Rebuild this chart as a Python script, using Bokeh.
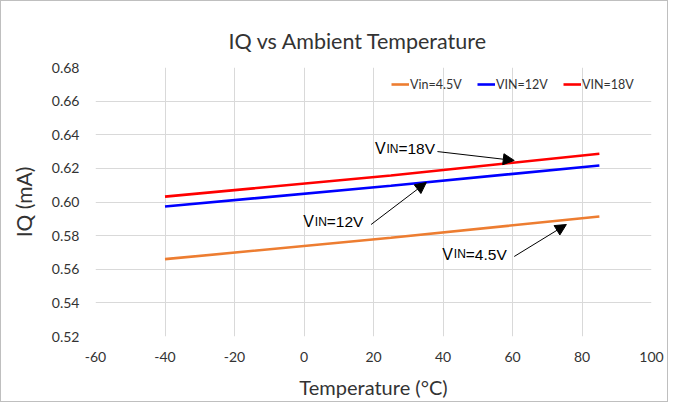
from bokeh.plotting import figure
from bokeh.models import Legend, LegendItem, Arrow, NormalHead, Label, SingleIntervalTicker, NumeralTickFormatter, Range1d
from bokeh.embed import file_html
from bokeh.resources import INLINE

temps = [-40, 25, 85]
iq_45 = [0.566, 0.5787, 0.5914]
iq_12 = [0.5973, 0.6097, 0.6217]
iq_18 = [0.6032, 0.6158, 0.6287]
series_names = ["Vin=4.5V", "VIN=12V", "VIN=18V"]
colors = ["#ED7D31", "#0000FF", "#FF0000"]
title_text = "IQ vs Ambient Temperature"

FONT = "Lato"
TXT = "#333333"
p = figure(width=668, height=402, output_backend="svg", toolbar_location=None,
           x_range=Range1d(-60, 100), y_range=Range1d(0.52, 0.68),
           min_border_left=94, min_border_right=18, min_border_top=66, min_border_bottom=67)
p.styles = {"border": "1px solid #bfbfbf"}
p.outline_line_color = None
p.title.text = title_text
p.title.align = "left"
p.title.offset = 133
p.title.standoff = 28
p.title.text_font = FONT
p.title.text_font_size = "21.5px"
p.title.text_font_style = "normal"
p.title.text_color = TXT

for ax in (p.xaxis, p.yaxis):
    ax.axis_line_color = None
    ax.major_tick_line_color = None
    ax.minor_tick_line_color = None
    ax.major_label_text_font = FONT
    ax.major_label_text_font_size = "14px"
    ax.major_label_text_color = TXT
    ax.axis_label_text_font = FONT
    ax.axis_label_text_font_style = "normal"
    ax.axis_label_text_color = TXT

p.xaxis.ticker = SingleIntervalTicker(interval=20)
p.yaxis.ticker = SingleIntervalTicker(interval=0.02)
p.xaxis.formatter = NumeralTickFormatter(format="0")
p.yaxis.formatter = NumeralTickFormatter(format="0.00")
p.xaxis.axis_label = "Temperature (°C)"
p.yaxis.axis_label = "IQ (mA)"
p.xaxis.axis_label_text_font_size = "20px"
p.yaxis.axis_label_text_font_size = "21px"
p.xaxis.major_label_standoff = 9
p.yaxis.major_label_standoff = 10
p.xaxis.axis_label_standoff = 10
p.yaxis.axis_label_standoff = 13

p.grid.grid_line_color = "#d9d9d9"
p.grid.grid_line_width = 1

r1 = p.line(temps, iq_45, line_color=colors[0], line_width=2.6)
r2 = p.line(temps, iq_12, line_color=colors[1], line_width=2.6)
r3 = p.line(temps, iq_18, line_color=colors[2], line_width=2.6)

legend = Legend(items=[LegendItem(label=series_names[0], renderers=[r1]),
                       LegendItem(label=series_names[1], renderers=[r2]),
                       LegendItem(label=series_names[2], renderers=[r3])],
                orientation="horizontal", location="top_right",
                background_fill_alpha=0, border_line_color=None,
                label_text_font=FONT, label_text_font_size="12.5px", label_text_color=TXT,
                glyph_width=18, glyph_height=20, spacing=5, label_standoff=1, label_width=62,
                margin=7, padding=0)
p.add_layout(legend, "center")

# annotation text: (suffix, x, baseline y); arrows: (x0, y0, x1, y1)
ann_text = [("=18V", 20.4, 0.6318), ("=12V", -0.2, 0.5884), ("=4.5V", 39.8, 0.5688)]
arrows = [(38.4, 0.6300, 60.5, 0.6247), (19.3, 0.5866, 35.2, 0.6116), (60.5, 0.5676, 75.5, 0.5866)]
AFONT = "Liberation Sans"
for t, x, y in ann_text:
    p.add_layout(Label(x=x, y=y, text="V", text_font=AFONT, text_font_size="16px",
                       text_color="black", text_baseline="alphabetic"))
    p.add_layout(Label(x=x, y=y, x_offset=11.5, text="IN", text_font=AFONT, text_font_size="12px",
                       text_color="black", text_baseline="alphabetic"))
    p.add_layout(Label(x=x, y=y, x_offset=23.5, text=t, text_font=AFONT, text_font_size="15.5px",
                       text_color="black", text_baseline="alphabetic"))
for x0, y0, x1, y1 in arrows:
    p.add_layout(Arrow(end=NormalHead(size=11, fill_color="black", line_color="black"),
                       x_start=x0, y_start=y0, x_end=x1, y_end=y1, line_color="black", line_width=1))

open("out.html", "w").write(file_html(p, INLINE))
